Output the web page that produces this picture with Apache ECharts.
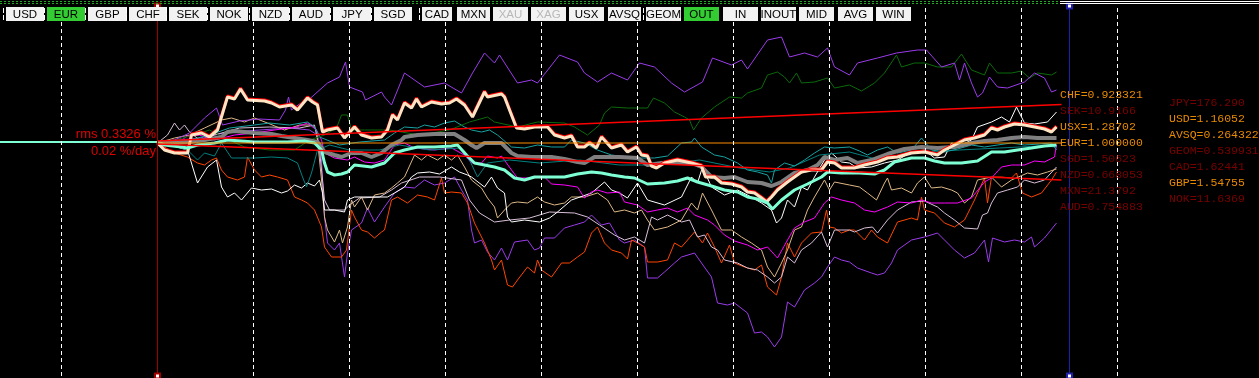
<!DOCTYPE html>
<html><head><meta charset="utf-8">
<script src="https://cdn.jsdelivr.net/npm/echarts@6/dist/echarts.min.js"></script>
<style>html,body{margin:0;padding:0;background:#000;overflow:hidden}#c{width:1259px;height:378px}</style>
</head><body><div id="c"></div>
<script>
// x = hours since window start, y = basis points relative to EUR
const P1 = [[0,2],[17,6],[32,20],[47,50],[59,70],[65,36],[82,44],[102,48],[122,46],[128,66],[131,92],[134,66],[142,78],[152,88],[170,120],[182,132],[188,162],[192,112],[205,102],[208,86],[224,102],[227,92],[234,76],[247,140],[267,112],[287,120],[304,100],[315,140],[327,180],[337,160],[342,176],[360,120],[374,126],[380,120],[402,176],[420,162],[427,140],[440,122],[454,140],[470,126],[482,160],[497,152],[514,120],[527,102],[545,122],[555,170],[574,156],[584,166],[590,148],[610,206],[624,212],[632,172],[647,180],[660,172],[670,190],[677,152],[692,136],[700,160],[720,170],[739,180],[760,186],[769,186],[784,152],[797,160],[802,126],[807,160],[814,120],[820,92],[825,100],[832,132],[840,112],[850,110],[867,122],[877,140],[887,130],[894,102],[899,106]];
const G = [[0,0],[17,6],[37,16],[52,26],[67,10],[87,-8],[112,-14],[137,-14],[152,6],[167,16],[179,30],[184,56],[190,56],[194,26],[207,26],[232,26],[262,16],[292,26],[312,42],[330,52],[337,42],[360,32],[380,42],[407,40],[417,32],[430,16],[442,36],[447,60],[454,72],[470,70],[490,70],[496,90],[507,80],[517,62],[527,52],[532,46],[536,26],[544,50],[557,72],[572,92],[584,90],[590,100],[604,110],[610,136],[620,142],[627,132],[632,120],[639,140],[644,120],[657,122],[670,130],[677,110],[692,116],[704,104],[717,120],[727,140],[739,176],[744,152],[757,160],[767,160],[780,152],[794,152],[804,178],[814,146],[827,136],[832,160],[840,140],[854,140],[864,144],[872,130],[880,140],[894,136],[899,142]];
const BQ = [[0,0],[7,-14],[17,-20],[30,-20],[34,16],[44,20],[52,12],[60,26],[70,92],[77,88],[83,108],[90,86],[107,84],[114,80],[122,72],[134,76],[140,66],[150,90],[155,82],[160,76],[165,22],[170,26],[180,30],[187,10],[197,32],[204,16],[214,10],[224,12],[230,26],[235,56],[240,46],[247,80],[254,70],[259,88],[264,72],[274,82],[284,78],[292,80],[299,88],[307,76],[315,52],[327,102],[330,92],[344,98],[347,92],[359,30],[367,28],[377,32],[390,32],[397,16],[407,10],[414,14],[420,-8],[427,-8],[432,0],[439,-10],[444,12],[454,-10],[464,-4],[470,-18],[479,-8],[484,-24],[490,-26],[494,-46],[499,-50],[507,-40],[520,-34],[534,-40],[544,-46],[548,-68],[557,-68],[564,-80],[574,-82],[584,-88],[590,-98],[597,-100],[604,-110],[609,-118],[614,-108],[620,-94],[630,-78],[637,-68],[644,-58],[654,-54],[664,-54],[670,-38],[677,-40],[684,-50],[697,-50],[707,-44],[720,-38],[730,-30],[740,-28],[754,-20],[767,-18],[780,-24],[787,-14],[797,-4],[807,6],[817,10],[827,16],[834,30],[840,26],[847,32],[857,38],[867,36],[877,32],[887,28],[894,22],[899,32]];
const GR = [[0,0],[17,0],[32,2],[47,6],[64,12],[70,22],[77,24],[97,20],[114,18],[124,14],[137,10],[150,6],[160,2],[167,-18],[177,-24],[184,-28],[194,-20],[204,-20],[214,-28],[224,-20],[234,-4],[244,6],[247,12],[260,16],[277,18],[297,18],[307,6],[314,-4],[319,-10],[327,0],[344,0],[354,-20],[360,-26],[374,-28],[394,-28],[407,-32],[420,-38],[427,-40],[437,-28],[450,-28],[462,-28],[480,-30],[490,-44],[504,-40],[534,-40],[544,-48],[554,-68],[567,-70],[577,-68],[590,-78],[604,-80],[614,-86],[624,-78],[637,-60],[650,-54],[660,-44],[667,-28],[677,-34],[690,-30],[700,-40],[714,-34],[730,-22],[747,-12],[764,-8],[780,-10],[797,-8],[814,0],[827,4],[840,6],[854,10],[867,12],[880,10],[899,10]];
const AQ = [[0,2],[7,-4],[24,-8],[30,-10],[40,-4],[57,0],[70,6],[97,2],[114,2],[130,2],[147,4],[157,0],[164,-14],[167,-40],[170,-58],[177,-64],[184,-62],[190,-58],[197,-44],[214,-48],[227,-40],[237,-20],[247,-14],[260,-8],[277,-8],[294,-6],[300,-4],[309,-24],[317,-40],[327,-44],[337,-48],[347,-54],[357,-70],[367,-74],[377,-68],[394,-68],[407,-68],[420,-62],[434,-58],[444,-60],[454,-64],[467,-68],[477,-70],[490,-82],[507,-80],[520,-76],[530,-70],[540,-78],[554,-86],[567,-94],[580,-98],[590,-108],[600,-112],[610,-120],[615,-132],[624,-114],[637,-94],[650,-82],[664,-68],[670,-58],[684,-60],[702,-60],[717,-62],[727,-54],[737,-38],[754,-30],[767,-30],[777,-36],[787,-40],[804,-40],[820,-36],[834,-18],[847,-18],[860,-14],[874,-10],[887,-6],[899,-4]];
const TL1 = [[0,0],[17,2],[32,6],[52,16],[72,30],[97,36],[112,40],[132,36],[150,42],[157,32],[162,12],[182,-4],[202,2],[227,6],[237,20],[247,32],[260,30],[267,36],[277,32],[287,40],[297,44],[307,32],[314,26],[324,22],[332,26],[340,16],[354,-8],[367,-10],[380,-4],[394,-8],[407,-8],[414,6],[427,0],[440,-14],[454,-24],[470,-28],[484,-30],[497,-30],[510,-26],[524,0],[534,2],[537,10],[544,-8],[557,-24],[567,-28],[580,-40],[590,-54],[600,-58],[610,-64],[614,-80],[617,-54],[627,-40],[637,-46],[647,-34],[657,-20],[667,-8],[677,-10],[692,-8],[702,-16],[710,-24],[720,-14],[730,-8],[740,-20],[754,-14],[764,10],[774,-14],[787,-18],[800,-12],[814,-4],[827,-8],[840,-4],[854,0],[867,-4],[882,-2],[894,0],[899,-14]];
const TL2 = [[0,0],[17,-6],[30,-14],[40,-34],[47,-20],[57,-26],[64,0],[74,-30],[97,-30],[114,-28],[130,-30],[140,-40],[145,-68],[149,-88],[154,-60],[160,-14],[172,-4],[192,-14],[222,-14],[242,-4],[272,-14],[302,-10],[312,-34],[320,-68],[330,-40],[352,-34],[382,-40],[422,-34],[462,-44],[502,-44],[542,-34],[582,-50],[612,-58],[632,-50],[662,-24],[692,-18],[722,-34],[762,-18],[802,-14],[842,-10],[882,-6],[899,-8]];
const MG = [[0,0],[17,-4],[30,14],[42,16],[57,6],[77,16],[97,20],[117,26],[139,32],[150,40],[159,26],[164,6],[167,-20],[177,-30],[190,-34],[197,-28],[207,-38],[217,-40],[227,-34],[237,-4],[247,0],[257,-10],[277,-14],[294,-10],[307,-24],[314,-40],[324,-40],[330,-26],[340,-30],[344,-26],[354,-54],[360,-70],[374,-70],[387,-68],[394,-82],[407,-84],[420,-88],[427,-110],[434,-98],[440,-94],[450,-100],[462,-98],[467,-118],[480,-124],[490,-138],[500,-134],[510,-130],[520,-138],[530,-130],[537,-144],[550,-154],[557,-164],[567,-184],[577,-196],[590,-204],[600,-214],[610,-208],[620,-230],[630,-194],[637,-170],[647,-158],[657,-150],[667,-120],[674,-108],[684,-114],[697,-120],[707,-134],[717,-138],[730,-128],[740,-118],[754,-120],[764,-114],[774,-120],[787,-120],[800,-120],[814,-110],[827,-78],[834,-70],[844,-48],[854,-44],[867,-44],[877,-36],[887,-38],[897,-28],[899,-4]];
const TN = [[0,0],[17,10],[32,16],[47,30],[64,46],[74,50],[87,42],[97,50],[110,40],[127,26],[142,36],[154,36],[159,26],[164,-74],[167,-148],[170,-174],[177,-198],[182,-174],[185,-200],[190,-168],[194,-114],[197,-128],[204,-108],[210,-134],[217,-104],[227,-100],[234,-90],[240,-80],[247,-68],[257,-24],[264,-34],[270,-24],[280,-34],[287,-24],[294,-34],[300,-24],[307,-48],[314,-74],[324,-90],[330,-110],[337,-128],[340,-150],[347,-134],[354,-120],[360,-118],[370,-120],[380,-108],[387,-118],[397,-124],[407,-120],[414,-108],[427,-108],[440,-100],[450,-114],[457,-138],[467,-134],[477,-140],[484,-134],[490,-154],[497,-174],[510,-168],[524,-154],[534,-120],[540,-134],[545,-100],[554,-134],[564,-174],[574,-174],[584,-188],[594,-200],[604,-214],[610,-248],[617,-268],[624,-240],[630,-214],[637,-174],[644,-168],[650,-134],[657,-108],[667,-74],[672,-94],[677,-78],[692,-84],[702,-88],[710,-100],[719,-114],[727,-80],[730,-70],[734,-94],[744,-90],[754,-100],[760,-80],[767,-68],[774,-90],[784,-88],[794,-94],[800,-100],[807,-120],[814,-108],[820,-74],[834,-68],[844,-88],[854,-74],[870,-60],[880,-64],[890,-58],[899,-52]];
const W1 = [[0,0],[12,-4],[30,-14],[40,-80],[50,-48],[59,-34],[64,-88],[70,-108],[77,-100],[84,-114],[94,-90],[104,-94],[114,-92],[124,-100],[130,-96],[137,-84],[144,-90],[150,-80],[157,-86],[162,-74],[165,-100],[167,-134],[177,-134],[187,-138],[190,-114],[197,-108],[214,-108],[230,-108],[237,-100],[247,-88],[254,-68],[260,-60],[272,-58],[282,-62],[294,-48],[302,-58],[310,-64],[314,-68],[327,-88],[334,-68],[340,-90],[347,-100],[350,-148],[354,-158],[367,-154],[382,-158],[392,-150],[400,-138],[414,-114],[434,-100],[447,-78],[454,-94],[462,-100],[470,-110],[480,-80],[490,-114],[507,-124],[524,-108],[534,-68],[540,-80],[545,-48],[554,-88],[567,-104],[580,-94],[590,-104],[604,-120],[614,-134],[619,-160],[624,-150],[630,-114],[637,-128],[644,-88],[650,-94],[657,-68],[667,-34],[674,-20],[684,-38],[692,-40],[700,-50],[714,-48],[727,-40],[740,-34],[754,-18],[767,-14],[777,-30],[787,-28],[794,0],[804,-4],[814,6],[820,32],[834,42],[844,52],[852,42],[859,72],[867,40],[877,38],[890,42],[899,62]];
const TH = [[0,0],[10,16],[17,40],[22,26],[27,36],[32,22],[42,6],[57,16],[82,30],[112,32],[142,30],[157,36],[162,-14],[167,-114],[172,-134],[187,-134],[192,-124],[202,-110],[222,-108],[234,-94],[244,-80],[262,-68],[282,-68],[304,-74],[312,-114],[322,-140],[337,-158],[352,-154],[372,-150],[392,-138],[417,-140],[430,-148],[442,-164],[457,-184],[467,-194],[477,-188],[487,-200],[494,-148],[500,-154],[510,-144],[524,-158],[532,-154],[540,-188],[547,-184],[554,-208],[560,-214],[567,-234],[580,-240],[590,-250],[600,-254],[610,-268],[617,-280],[624,-268],[630,-228],[637,-240],[644,-214],[654,-200],[664,-178],[670,-208],[677,-174],[692,-174],[697,-178],[707,-170],[715,-168],[720,-180],[730,-154],[740,-134],[754,-118],[767,-116],[780,-128],[787,-140],[797,-154],[807,-170],[820,-172],[825,-144],[830,-140],[834,-120],[840,-100],[850,-94],[860,-88],[867,-74],[877,-80],[887,-74],[899,-48]];
const OR = [[0,0],[17,-20],[30,-28],[40,-40],[47,-44],[54,-34],[59,-30],[64,-54],[70,-68],[80,-74],[87,-68],[90,-28],[97,-54],[104,-68],[112,-64],[120,-68],[130,-74],[137,-108],[144,-114],[150,-120],[157,-134],[164,-168],[167,-208],[174,-228],[184,-228],[189,-214],[194,-134],[197,-148],[204,-174],[210,-178],[217,-190],[224,-178],[227,-174],[234,-114],[240,-108],[250,-120],[260,-104],[270,-108],[277,-114],[284,-70],[287,-100],[294,-98],[304,-100],[310,-120],[317,-160],[327,-200],[334,-234],[337,-254],[344,-234],[350,-284],[355,-288],[360,-274],[370,-248],[377,-260],[380,-234],[384,-254],[394,-268],[404,-240],[412,-240],[420,-228],[427,-218],[434,-180],[440,-168],[447,-200],[454,-214],[464,-220],[470,-232],[474,-194],[480,-200],[487,-208],[490,-238],[500,-238],[510,-234],[517,-200],[524,-208],[537,-178],[545,-200],[550,-180],[557,-208],[564,-240],[572,-204],[577,-240],[587,-248],[597,-254],[604,-244],[610,-288],[619,-304],[624,-268],[630,-200],[637,-228],[644,-200],[654,-180],[664,-178],[669,-134],[672,-168],[677,-170],[684,-180],[692,-174],[697,-174],[707,-194],[714,-174],[720,-188],[730,-200],[740,-158],[754,-150],[760,-154],[764,-108],[767,-134],[777,-140],[787,-160],[797,-168],[807,-154],[817,-114],[827,-70],[830,-120],[834,-68],[844,-68],[854,-70],[859,-60],[865,-100],[874,-108],[884,-100],[894,-74],[899,-58]];
const P2 = [[0,0],[22,6],[42,10],[72,22],[102,26],[132,30],[152,26],[160,16],[164,-34],[167,-148],[170,-200],[177,-214],[182,-200],[187,-268],[190,-220],[194,-174],[204,-160],[210,-130],[217,-158],[227,-128],[237,-100],[247,-88],[257,-90],[267,-74],[277,-84],[287,-80],[297,-68],[304,-94],[310,-114],[314,-174],[317,-200],[324,-194],[330,-218],[337,-234],[344,-210],[350,-234],[357,-198],[370,-194],[377,-214],[382,-210],[387,-190],[397,-190],[407,-170],[417,-164],[427,-158],[434,-144],[444,-164],[452,-160],[462,-194],[467,-200],[477,-194],[487,-208],[490,-270],[500,-270],[507,-258],[517,-240],[524,-228],[537,-220],[544,-240],[554,-268],[560,-320],[570,-324],[577,-320],[590,-340],[597,-380],[604,-378],[610,-388],[617,-408],[624,-388],[630,-318],[637,-328],[647,-294],[657,-280],[664,-268],[670,-248],[677,-228],[684,-234],[692,-238],[700,-250],[714,-260],[720,-264],[727,-260],[734,-240],[740,-214],[754,-194],[767,-188],[780,-180],[787,-194],[797,-214],[807,-230],[817,-220],[827,-194],[831,-238],[835,-190],[847,-198],[857,-194],[867,-198],[874,-188],[877,-208],[887,-190],[899,-160]];

const eurHistory = [[-160,2],[0,2]];
const refLevel = [[0,0],[904,0]];
const bandUpper = [[0,4],[904,77]];
const bandLower = [[0,-2],[904,-74]];
const gridHours = [-96,96,192,288,384,480,576,672,768,864,960];
const startHour = 0;
const nowHour = 912;

const rmsPct = '0.3326';
const driftPerDay = '0.02';

const col1Names = ['CHF','SEK','USX','EUR','SGD','NZD','MXN','AUD'];
const col1Values = ['0.923321','10.9166','1.28702','1.000000','1.50623','0.668053','21.3792','0.754883'];
const col1Active = [1,0,1,1,0,0,0,0];
const col2Names = ['JPY','USD','AVSQ','GEOM','CAD','GBP','NOK'];
const col2Values = ['176.290','1.16052','0.264322','0.539931','1.62441','1.54755','11.6369'];
const col2Active = [0,1,1,0,0,1,0];

const buttons = ['USD','EUR','GBP','CHF','SEK','NOK','NZD','AUD','JPY','SGD','CAD','MXN','XAU','XAG','USX','AVSQ','GEOM','OUT','IN','INOUT','MID','AVG','WIN'];
const buttonsOn = ['EUR','OUT'];
const buttonsDim = ['XAU','XAG'];

// ---- layout (styling only) ----
const btnBox = [[6,38],[47,38],[88,39],[129,38],[169,38],[210,38],[252,37],[292,38],[333,38],[374,38],[422,30],[457,33],[493,35],[531,35],[569,35],[608,33],[646,35],[684,35],[723,35],[761,35],[799,35],[838,35],[876,35]];

const chart = echarts.init(document.getElementById('c'), null, {renderer:'canvas'});

function ln(name, data, color, width, extra) {
  return Object.assign({
    name, type:'line', data, showSymbol:false, symbol:'none', silent:true,
    animation:false, lineStyle:{color, width}, clip:true
  }, extra || {});
}

const series = [
  ln('EURhist', eurHistory, '#7fffd4', 2),
  ln('P2', P2, '#9b3bea', 1),
  ln('OR', OR, '#ff4500', 1),
  ln('TH', TH, '#d8bfd8', 1),
  ln('TN', TN, '#deb887', 1),
  ln('W1', W1, '#ffffff', 1),
  ln('MG', MG, '#ff00ff', 1),
  ln('TL2', TL2, '#008080', 1),
  ln('TL1', TL1, '#17a2a2', 1),
  ln('G', G, '#0b6a0b', 1),
  ln('P1', P1, '#9b3bea', 1),
  ln('GR', GR, '#808080', 4),
  ln('BQ', BQ, '#ffe4c4', 3, {lineStyle:{color:'#ffe4c4', width:3, shadowColor:'#ff0000', shadowBlur:0, shadowOffsetY:-1}}),
  ln('AQ', AQ, '#7fffd4', 3),
  ln('ref', refLevel, '#ff8c00', 1),
  ln('bandU', bandUpper, '#ff0000', 1.5),
  ln('bandL', bandLower, '#ff0000', 1.5),
  {
    type:'line', data:[], silent:true, animation:false,
    markLine:{
      silent:true, animation:false, symbol:'none', label:{show:false},
      lineStyle:{color:'#ffffff', width:1, type:[4,3]},
      data: gridHours.map(h => ({xAxis:h}))
    }
  },
  {
    type:'line', data:[], silent:true, animation:false,
    markLine:{
      silent:true, animation:false, symbol:['emptyRect','emptyRect'], symbolSize:5, label:{show:false},
      data:[
        {xAxis:startHour, lineStyle:{color:'#a00000', width:1, type:'solid'}},
        {xAxis:nowHour, lineStyle:{color:'#2020a8', width:1, type:'solid'}}
      ]
    }
  }
];

const graphic = [];
graphic.push({type:'line', shape:{x1:0,y1:1.5,x2:1060,y2:1.5}, style:{stroke:'#22aa22', lineWidth:1, lineDash:[2,2]}, z:100});
graphic.push({type:'line', shape:{x1:0,y1:3.5,x2:1060,y2:3.5}, style:{stroke:'#22aa22', lineWidth:1, lineDash:[2,2]}, z:100});
graphic.push({type:'line', shape:{x1:1060,y1:1.5,x2:1259,y2:1.5}, style:{stroke:'#ffffff', lineWidth:1}, z:100});
graphic.push({type:'line', shape:{x1:1060,y1:3.5,x2:1259,y2:3.5}, style:{stroke:'#ffffff', lineWidth:1}, z:100});
buttons.forEach((b,i) => {
  const [x,w] = btnBox[i];
  const on = buttonsOn.includes(b), dim = buttonsDim.includes(b);
  graphic.push({type:'rect', shape:{x:x, y:7, width:w, height:14}, style:{fill:on?'#33cc33':'#f2f2f2'}, z:100});
  graphic.push({type:'text', x:x+w/2, y:14.5, style:{text:b, fill:dim?'#b8b8b8':'#000000', font:'11.5px "Liberation Sans", Arial, sans-serif', textAlign:'center', textVerticalAlign:'middle'}, z:101});
  if (i <= 10) graphic.push({type:'line', shape:{x1:x-2.5,y1:8,x2:x-2.5,y2:20}, style:{stroke:'#ffffff', lineWidth:1, lineDash:[5,2]}, z:100});
});
graphic.push({type:'line', shape:{x1:643.5,y1:8,x2:643.5,y2:20}, style:{stroke:'#ffffff', lineWidth:1, lineDash:[5,2]}, z:100});
graphic.push({type:'text', x:156, y:134.5, style:{text:'rms ' + rmsPct + ' %', fill:'#e00000', font:'13px "Liberation Sans", Arial, sans-serif', textAlign:'right', textVerticalAlign:'middle'}, z:100});
graphic.push({type:'text', x:156, y:151, style:{text:driftPerDay + ' %/day', fill:'#e00000', font:'13px "Liberation Sans", Arial, sans-serif', textAlign:'right', textVerticalAlign:'middle'}, z:100});
const monoFont = '11.5px "Liberation Mono", "DejaVu Sans Mono", monospace';
col1Names.forEach((n,i) => {
  graphic.push({type:'text', x:1060, y:95 + 16*i, style:{text:n + '=' + col1Values[i], fill:col1Active[i]?'#e88a00':'#7a0000', font:monoFont, textAlign:'left', textVerticalAlign:'middle'}, z:100});
});
col2Names.forEach((n,i) => {
  graphic.push({type:'text', x:1169, y:103 + 16*i, style:{text:n + '=' + col2Values[i], fill:col2Active[i]?'#e88a00':'#7a0000', font:monoFont, textAlign:'left', textVerticalAlign:'middle'}, z:100});
});

chart.setOption({
  backgroundColor:'#000000',
  animation:false,
  grid:{left:0, right:0, top:6, bottom:2, containLabel:false},
  xAxis:{type:'value', min:-157.5, max:1101.5, show:false, splitLine:{show:false}},
  yAxis:{type:'value', min:-466, max:274, show:false, splitLine:{show:false}},
  series,
  graphic
});
</script>
</body></html>
